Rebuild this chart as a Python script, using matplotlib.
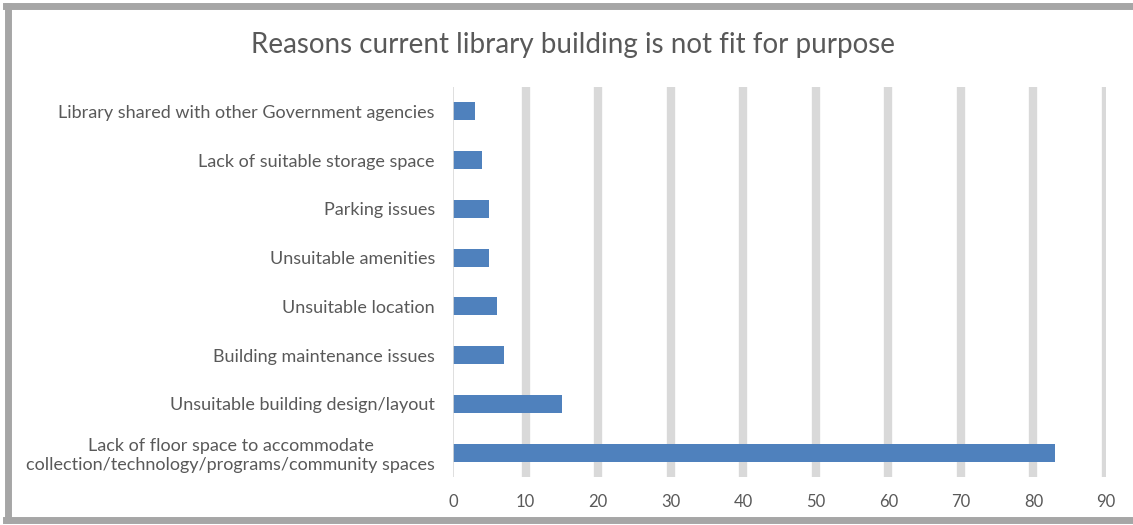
import matplotlib
matplotlib.use("Agg")
import matplotlib.pyplot as plt
from matplotlib.lines import Line2D

categories = [
    "Lack of floor space to accommodate\ncollection/technology/programs/community spaces",
    "Unsuitable building design/layout",
    "Building maintenance issues",
    "Unsuitable location",
    "Unsuitable amenities",
    "Parking issues",
    "Lack of suitable storage space",
    "Library shared with other Government agencies",
]
values = [83, 15, 7, 6, 5, 5, 4, 3]
x_ticks = [0, 10, 20, 30, 40, 50, 60, 70, 80, 90]
title = "Reasons current library building is not fit for purpose"

plt.rcParams["font.family"] = ["Lato", "DejaVu Sans"]
text_color = "#595959"

fig = plt.figure(figsize=(11.33, 5.25), dpi=100)
ax = fig.add_axes([453 / 1133, 1 - 477 / 525, (1106 - 453) / 1133, (477 - 87) / 525])

y = list(range(len(categories)))
ax.barh(y, values, height=0.37, color="#4f81bd", zorder=3)

ax.set_xlim(0, 90)
ax.set_ylim(-0.5, len(categories) - 0.5)
ax.set_xticks(x_ticks)
ax.set_xticklabels([str(t) for t in x_ticks])
ax.set_yticks(y)
ax.set_yticklabels(categories, ha="right", multialignment="center")
ax.tick_params(axis="y", length=0, pad=13, labelsize=13, colors=text_color)
ax.tick_params(axis="x", length=0, pad=12, labelsize=12, colors=text_color)

for t in x_ticks[1:]:
    ax.axvline(t, color="#d9d9d9", linewidth=6, zorder=1)
ax.axvline(0, color="#d9d9d9", linewidth=1.2, zorder=4)

for s in ax.spines.values():
    s.set_visible(False)

fig.text(573 / 1133, 1 - 45 / 525, title, ha="center", va="center",
         fontsize=20, color=text_color)

# outer chart frame (left, top, bottom)
frame_color = "#a6a6a6"
fig.add_artist(Line2D([8 / 1133, 8 / 1133], [1 - 6 / 525, 1 - 520 / 525],
                      transform=fig.transFigure, color=frame_color, linewidth=5))
fig.add_artist(Line2D([6 / 1133, 1], [1 - 6 / 525, 1 - 6 / 525],
                      transform=fig.transFigure, color=frame_color, linewidth=5))
fig.add_artist(Line2D([6 / 1133, 1], [1 - 520 / 525, 1 - 520 / 525],
                      transform=fig.transFigure, color=frame_color, linewidth=5))

fig.savefig("out.png", dpi=100)
